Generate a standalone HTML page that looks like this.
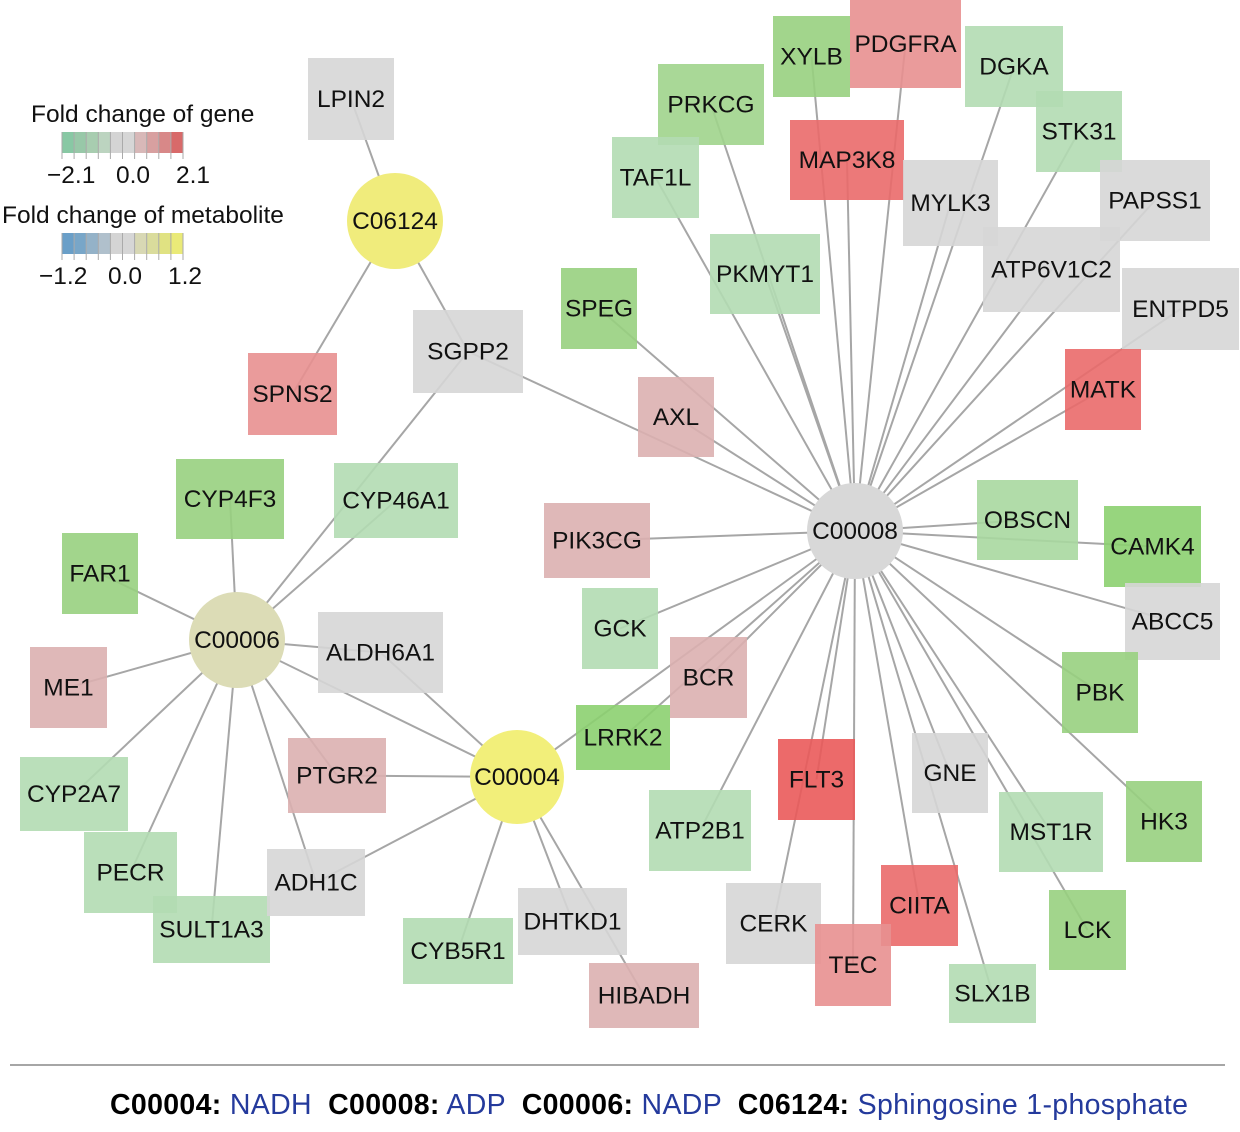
<!DOCTYPE html>
<html><head><meta charset="utf-8"><style>
body{margin:0;background:#fff;width:1240px;height:1127px;overflow:hidden}
svg text{font-family:"Liberation Sans",Arial,sans-serif}
</style></head><body>
<svg id="s" width="1240" height="1127" xmlns="http://www.w3.org/2000/svg">
<g id="edges" stroke="#a6a6a6" stroke-width="2"></g>
<g id="nodes"></g>
<g font-size="24.5" fill="#111">
<text x="31" y="122">Fold change of gene</text>
<text x="2" y="223">Fold change of metabolite</text>
<text x="47" y="183">−2.1</text><text x="116" y="183">0.0</text><text x="176" y="183">2.1</text>
<text x="39" y="284">−1.2</text><text x="108" y="284">0.0</text><text x="168" y="284">1.2</text>
</g>
<g id="leg"></g>
<line x1="10" y1="1065" x2="1225" y2="1065" stroke="#888" stroke-width="1.5"/>
<text x="110" y="1114" font-size="28.5" fill="#000" textLength="1078" lengthAdjust="spacing"><tspan font-weight="bold">C00004:</tspan><tspan fill="#243a9c"> NADH  </tspan><tspan font-weight="bold" dx="8">C00008:</tspan><tspan fill="#243a9c"> ADP  </tspan><tspan font-weight="bold" dx="8">C00006:</tspan><tspan fill="#243a9c"> NADP  </tspan><tspan font-weight="bold" dx="8">C06124:</tspan><tspan fill="#243a9c"> Sphingosine 1-phosphate</tspan></text>
</svg>
<script>
var G='#98d080',L='#b3dbb3',Y='#d6d6d6',P='#dbb0b0',R='#e89090',RR='#ea6a6a';
var B={LPIN2:[308,58,394,140,Y],SPNS2:[248,353,337,435,R],SGPP2:[413,310,523,393,Y],CYP4F3:[176,459,284,539,G],CYP46A1:[334,463,458,538,L],FAR1:[62,533,138,614,G],ME1:[30,647,107,728,P],ALDH6A1:[318,612,443,693,Y],CYP2A7:[20,757,128,831,L],PTGR2:[288,738,386,813,P],PECR:[84,832,177,913,L],SULT1A3:[153,896,270,963,L],ADH1C:[267,849,365,916,Y],CYB5R1:[403,918,513,984,L],DHTKD1:[518,888,627,955,Y],HIBADH:[589,963,699,1028,P],
XYLB:[773,16,850,97,G],PDGFRA:[850,0,961,88,R],DGKA:[965,26,1063,107,L],PRKCG:[658,64,764,145,'#a0d48c'],MAP3K8:[790,120,904,200,RR],STK31:[1036,91,1122,172,L],TAF1L:[612,137,699,218,L],MYLK3:[903,160,998,246,Y],PAPSS1:[1100,160,1210,241,Y],ATP6V1C2:[983,227,1120,312,Y],PKMYT1:[710,234,820,314,L],SPEG:[561,268,637,349,G],ENTPD5:[1122,268,1239,350,Y],MATK:[1065,349,1141,430,RR],AXL:[638,377,714,457,P],OBSCN:[977,480,1078,560,'#a8d8a0'],CAMK4:[1104,506,1201,587,'#8cd070'],PIK3CG:[544,503,650,578,P],ABCC5:[1125,583,1220,660,Y],GCK:[582,588,658,669,L],BCR:[670,637,747,718,P],PBK:[1062,652,1138,733,G],LRRK2:[576,705,670,770,'#8cd070'],FLT3:[778,739,855,820,'#ea5a5a'],GNE:[912,733,988,813,Y],ATP2B1:[649,790,751,871,L],MST1R:[999,792,1103,872,L],HK3:[1126,781,1202,862,G],CERK:[726,883,821,964,Y],CIITA:[881,865,958,946,RR],TEC:[815,924,891,1006,R],LCK:[1049,890,1126,970,G],SLX1B:[949,964,1036,1023,L]};
var C={C00008:[855,531,48,'#d8d8d8'],C00006:[237,640,48,'#dcdcb6'],C00004:[517,777,47,'#f2ef7a'],C06124:[395,221,48,'#f0ec7c']};
var E={C00008:'SGPP2 PIK3CG GCK BCR LRRK2 ATP2B1 CERK TEC CIITA GNE MST1R LCK SLX1B HK3 PBK ABCC5 CAMK4 OBSCN MATK ENTPD5 ATP6V1C2 PAPSS1 STK31 MYLK3 DGKA PDGFRA XYLB MAP3K8 PRKCG TAF1L PKMYT1 SPEG AXL FLT3 C00004',
C00006:'CYP4F3 FAR1 ME1 CYP2A7 PECR SULT1A3 ADH1C PTGR2 ALDH6A1 CYP46A1 SGPP2 C00004',
C00004:'PTGR2 ADH1C CYB5R1 DHTKD1 HIBADH ALDH6A1',C06124:'LPIN2 SPNS2 SGPP2'};
function ctr(n){if(C[n])return [C[n][0],C[n][1]];var b=B[n];return [(b[0]+b[2])/2,(b[1]+b[3])/2];}
var ns='http://www.w3.org/2000/svg',eg=document.getElementById('edges'),ng=document.getElementById('nodes');
function el(t,a,p){var e=document.createElementNS(ns,t);for(var k in a)e.setAttribute(k,a[k]);p.appendChild(e);return e;}
for(var h in E){var a=ctr(h);E[h].split(' ').forEach(function(n){var b=ctr(n);el('line',{x1:a[0],y1:a[1],x2:b[0],y2:b[1]},eg);});}
for(var n in B){var b=B[n];el('rect',{x:b[0],y:b[1],width:b[2]-b[0],height:b[3]-b[1],fill:b[4],'fill-opacity':0.9},ng);
var t=el('text',{x:(b[0]+b[2])/2,y:(b[1]+b[3])/2+8,'font-size':24.5,'text-anchor':'middle',fill:'#111'},ng);t.textContent=n;}
for(var n in C){var c=C[n];el('circle',{cx:c[0],cy:c[1],r:c[2],fill:c[3]},ng);
var t=el('text',{x:c[0],y:c[1]+8,'font-size':24.5,'text-anchor':'middle',fill:'#111'},ng);t.textContent=n;}
var lg=document.getElementById('leg');
var gc=['#88c8a4','#98c8a8','#a8cdb0','#bcd4c0','#d4d4d4','#d6d6d6','#d8b8b8','#d8a0a0','#d88888','#d86a6a'];
var mc=['#6a9fc8','#78a6c8','#94b2c8','#b0c0cc','#d4d4d4','#d6d6d6','#d8d8b4','#dadc9c','#e0e282','#eaea78'];
for(var i=0;i<10;i++){el('rect',{x:62+i*12.1,y:132,width:12.1,height:21,fill:gc[i]},lg);el('rect',{x:62+i*12.1,y:233,width:12.1,height:21,fill:mc[i]},lg);}
for(var i=0;i<=10;i++){var x=62+i*12.1;el('line',{x1:x,y1:132,x2:x,y2:159,stroke:'#aaa','stroke-width':1},lg);el('line',{x1:x,y1:233,x2:x,y2:260,stroke:'#aaa','stroke-width':1},lg);}
</script>
</body></html>
